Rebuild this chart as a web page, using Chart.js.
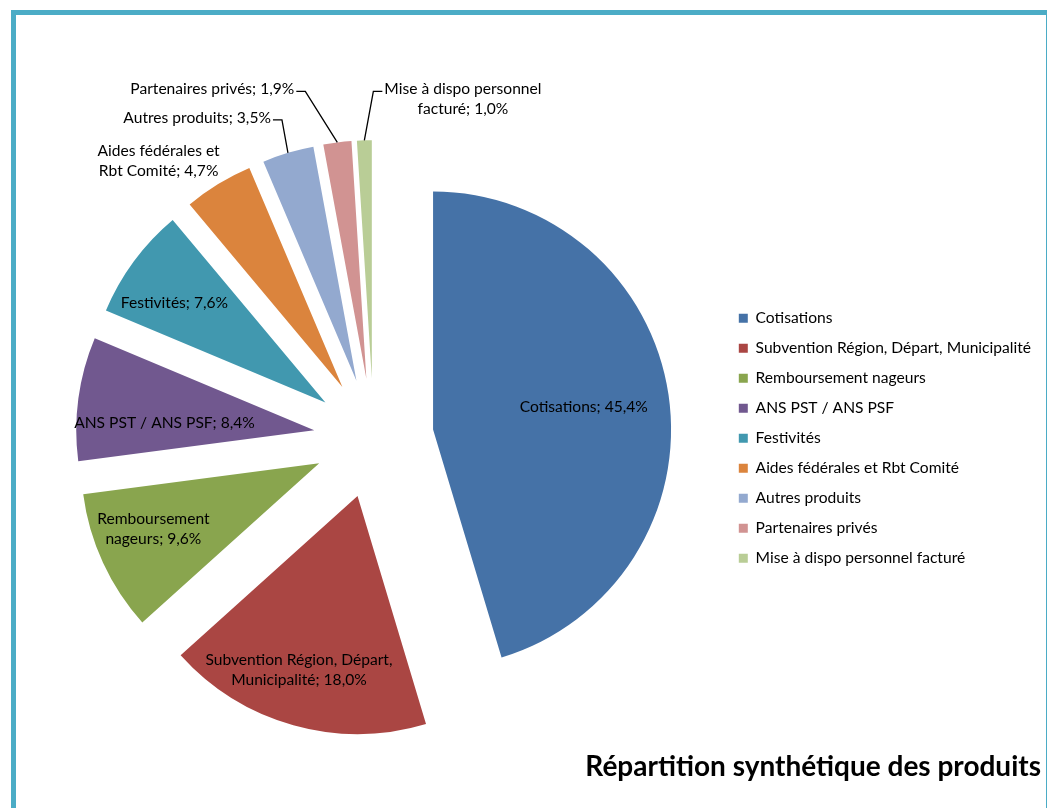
<!DOCTYPE html>
<html>
<head>
<meta charset="utf-8">
<script src="https://cdn.jsdelivr.net/npm/chart.js@4"></script>
<style>
  html, body { margin: 0; padding: 0; background: #fff; }
  #frame { position: absolute; left: 11px; top: 10px; width: 1030px; height: 820px;
           border-top: 5px solid #4bacc6; border-left: 5px solid #4bacc6; border-right: 1px solid #4bacc6; }
  #pie { position: absolute; left: 0; top: 0; }
</style>
</head>
<body>
<div id="frame"></div>
<canvas id="pie" width="1049" height="808"></canvas>
<script>
// donnees
var categories = ['Cotisations', 'Subvention Région, Départ, Municipalité', 'Remboursement nageurs',
  'ANS PST / ANS PSF', 'Festivités', 'Aides fédérales et Rbt Comité', 'Autres produits',
  'Partenaires privés', 'Mise à dispo personnel facturé'];
var values = [45.4, 18.0, 9.6, 8.4, 7.6, 4.7, 3.5, 1.9, 1.0];
var colors = ['#4572a7', '#aa4643', '#89a54e', '#71588f', '#4198af', '#db843d', '#93a9cf', '#d19392', '#b9cd96'];
var chartTitle = 'Répartition synthétique des produits';

// placement des etiquettes (r = fraction du rayon, a = decalage en degres, brk = mots sur la 1re ligne)
var labelPlace = [
  {r: 0.64, a: 0},
  {r: 0.77, a: 3, brk: 3},
  {r: 0.75, a: 3, brk: 1},
  {r: 0.63, a: -5},
  {r: 0.76, a: -3},
  {r: 1.225, a: -7.6, brk: 3},
  {lead: [-6, -33]},
  {lead: [-32, -51]},
  {lead: [9, -49], brk: 4}
];
var explode = 60;
var labelFont = 15.6;

// parts eclatees comme dans Excel
var explodePlugin = {
  id: 'explode',
  afterDatasetUpdate: function(chart, args) {
    args.meta.data.forEach(function(arc) {
      var mid = (arc.startAngle + arc.endAngle) / 2;
      arc.x += Math.cos(mid) * explode;
      arc.y += Math.sin(mid) * explode;
    });
  }
};

var labelPlugin = {
  id: 'sliceLabels',
  afterDatasetsDraw: function(chart) {
    var ctx = chart.ctx;
    var arcs = chart.getDatasetMeta(0).data;
    ctx.save();
    ctx.font = labelFont + 'px Lato';
    ctx.fillStyle = '#000';
    ctx.strokeStyle = '#000';
    ctx.lineWidth = 1.3;
    ctx.textBaseline = 'middle';
    ctx.textAlign = 'center';
    arcs.forEach(function(arc, i) {
      var p = labelPlace[i];
      var words = (categories[i] + '; ' + values[i].toFixed(1).replace('.', ',') + '%').split(' ');
      var lines = p.brk ? [words.slice(0, p.brk).join(' '), words.slice(p.brk).join(' ')] : [words.join(' ')];
      var mid = (arc.startAngle + arc.endAngle) / 2;
      var R = arc.outerRadius;
      var cx, cy;
      if (p.lead) {
        var px = arc.x + Math.cos(mid) * R, py = arc.y + Math.sin(mid) * R;
        var ex = px + p.lead[0], ey = py + p.lead[1];
        var side = p.lead[0] < 0 ? -1 : 1;
        ctx.beginPath();
        ctx.moveTo(px, py);
        ctx.lineTo(ex, ey);
        ctx.lineTo(ex + side * 9, ey);
        ctx.stroke();
        var w = Math.max.apply(null, lines.map(function(l) { return ctx.measureText(l).width; }));
        cx = ex + side * (11 + w / 2);
        cy = ey - 2 + (lines.length - 1) * 10;
      } else {
        var a = mid + (p.a || 0) * Math.PI / 180;
        cx = arc.x + Math.cos(a) * p.r * R;
        cy = arc.y + Math.sin(a) * p.r * R;
      }
      lines.forEach(function(l, k) {
        ctx.fillText(l, cx, cy + (k - (lines.length - 1) / 2) * 20);
      });
    });
    ctx.restore();
  }
};

new Chart(document.getElementById('pie'), {
  type: 'pie',
  data: {
    labels: categories,
    datasets: [{ data: values, backgroundColor: colors, borderWidth: 0, radius: 238 }]
  },
  options: {
    responsive: false,
    animation: false,
    layout: { padding: { left: 23, right: 8, top: 126, bottom: 0 } },
    plugins: {
      legend: {
        position: 'right',
        fullSize: false,
        labels: { boxWidth: 9, boxHeight: 9, padding: 14.4, color: '#000', font: { family: 'Lato', size: labelFont } }
      },
      title: {
        display: true, text: chartTitle, position: 'bottom', align: 'end', color: '#000',
        font: { family: 'Lato', size: 28, weight: 'bold' }, padding: { top: 0, bottom: 24 }
      },
      tooltip: { enabled: false }
    }
  },
  plugins: [explodePlugin, labelPlugin]
});
</script>
</body>
</html>
